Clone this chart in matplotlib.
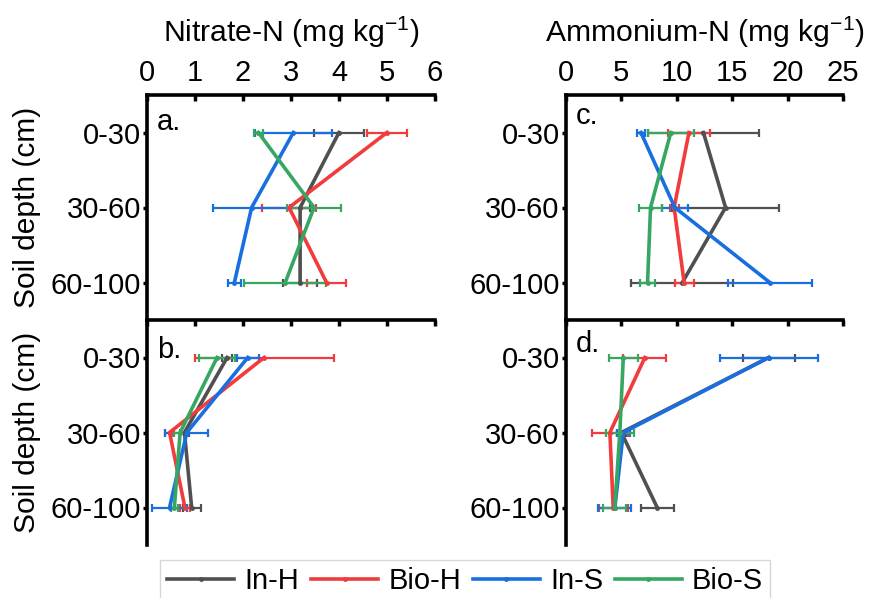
import matplotlib
matplotlib.use("Agg")
import matplotlib.pyplot as plt
import numpy as np

plt.rcParams['font.family'] = ['Liberation Sans', 'DejaVu Sans']
plt.rcParams['mathtext.fontset'] = 'custom'
plt.rcParams['mathtext.rm'] = 'Liberation Sans'
plt.rcParams['mathtext.default'] = 'regular'

depths = ['0-30', '30-60', '60-100']
treatments = ['In-H', 'Bio-H', 'In-S', 'Bio-S']
colors = ['#505050', '#F03C3C', '#1A6FE0', '#36A663']

# panel a: nitrate, upper
nitrate_a = {
    'In-H': [4.00, 3.19, 3.19], 'Bio-H': [5.00, 2.96, 3.74],
    'In-S': [3.05, 2.18, 1.82], 'Bio-S': [2.32, 3.48, 2.88]}
nitrate_a_err = {
    'In-H': [0.52, 0.20, 0.35], 'Bio-H': [0.42, 0.56, 0.41],
    'In-S': [0.80, 0.80, 0.13], 'Bio-S': [0.10, 0.56, 0.85]}
# panel b: nitrate, lower
nitrate_b = {
    'In-H': [1.67, 0.78, 0.93], 'Bio-H': [2.44, 0.47, 0.79],
    'In-S': [2.10, 0.83, 0.47], 'Bio-S': [1.46, 0.69, 0.57]}
nitrate_b_err = {
    'In-H': [0.10, 0.10, 0.19], 'Bio-H': [1.45, 0.10, 0.10],
    'In-S': [0.23, 0.45, 0.37], 'Bio-S': [0.37, 0.14, 0.08]}
# panel c: ammonium, upper
ammonium_c = {
    'In-H': [12.4, 14.4, 10.5], 'Bio-H': [11.1, 9.76, 10.66],
    'In-S': [6.76, 9.82, 18.4], 'Bio-S': [9.46, 7.63, 7.36]}
ammonium_c_err = {
    'In-H': [5.0, 4.8, 4.6], 'Bio-H': [1.9, 0.4, 0.85],
    'In-S': [0.35, 1.2, 3.8], 'Bio-S': [2.1, 1.0, 0.7]}
# panel d: ammonium, lower
ammonium_d = {
    'In-H': [18.3, 5.0, 8.23], 'Bio-H': [7.12, 3.96, 4.26],
    'In-S': [18.3, 5.17, 4.41], 'Bio-S': [5.17, 4.86, 4.40]}
ammonium_d_err = {
    'In-H': [2.35, 0.4, 1.5], 'Bio-H': [1.95, 1.6, 1.3],
    'In-S': [4.4, 0.6, 1.5], 'Bio-S': [1.3, 1.27, 1.05]}

W, H = 869, 598
fig = plt.figure(figsize=(W / 100, H / 100), dpi=100)

def px_axes(x0, x1, ytop, ybot):
    return fig.add_axes([x0 / W, 1 - ybot / H, (x1 - x0) / W, (ybot - ytop) / H])

axa = px_axes(147, 435, 95, 320)
axb = px_axes(147, 435, 320, 545)
axc = px_axes(566, 843, 95, 320)
axd = px_axes(566, 843, 320, 545)

panels = [
    (axa, nitrate_a, nitrate_a_err, (0, 6), np.arange(0, 7, 1), True, 'a.', 0.844),
    (axb, nitrate_b, nitrate_b_err, (0, 6), np.arange(0, 7, 1), False, 'b.', 0.831),
    (axc, ammonium_c, ammonium_c_err, (0, 25), np.arange(0, 26, 5), True, 'c.', 0.870),
    (axd, ammonium_d, ammonium_d_err, (0, 25), np.arange(0, 26, 5), False, 'd.', 0.858),
]

ypos = np.arange(1, len(depths) + 1)
handles = []
for ax, vals, errs, xlim, xticks, labeltop, letter, ly in panels:
    for t, c in zip(treatments, colors):
        eb = ax.errorbar(vals[t], ypos, xerr=errs[t], color=c, lw=2.6,
                         elinewidth=1.6, capsize=3, capthick=1.6,
                         marker='o', markersize=2.5, label=t)
        if ax is axa:
            handles.append(eb)
    ax.set_xlim(*xlim)
    ax.set_ylim(3.5, 0.5)
    ax.set_xticks(xticks)
    ax.set_yticks(ypos)
    ax.set_yticklabels(depths)
    ax.xaxis.tick_top()
    ax.tick_params(axis='x', direction='in', length=4, width=2.5, pad=6,
                   labelsize=21, labeltop=labeltop, labelbottom=False,
                   top=True, bottom=False)
    ax.tick_params(axis='y', direction='out', length=3, width=2.5, pad=1.5,
                   labelsize=21)
    for s in ['right', 'bottom']:
        ax.spines[s].set_visible(False)
    for s in ['top', 'left']:
        ax.spines[s].set_linewidth(2.6)
    ax.text(0.035, ly, letter, transform=ax.transAxes, fontsize=21,
            ha='left', va='baseline')

fig.text(291 / W, 1 - 42 / H, r'Nitrate-N (mg kg$^{-1}$)', fontsize=21.7,
         ha='center', va='baseline')
fig.text(705 / W, 1 - 42 / H, r'Ammonium-N (mg kg$^{-1}$)', fontsize=21.7,
         ha='center', va='baseline')
fig.text(27 / W, 1 - 207 / H, 'Soil depth (cm)', fontsize=21.5, rotation=90,
         ha='center', va='center')
fig.text(27 / W, 1 - 432 / H, 'Soil depth (cm)', fontsize=21.5, rotation=90,
         ha='center', va='center')

leg = fig.legend(handles=[h[0] for h in handles], labels=treatments,
                 loc='upper left', bbox_to_anchor=(160 / W, 1 - 560 / H),
                 ncol=4, fontsize=21, frameon=True, fancybox=False,
                 handlelength=2.3, handletextpad=0.35, columnspacing=0.4,
                 borderpad=0.25, borderaxespad=0)
leg.get_frame().set_edgecolor('#cccccc')
leg.get_frame().set_linewidth(1.0)

fig.savefig('out.png', dpi=100)
